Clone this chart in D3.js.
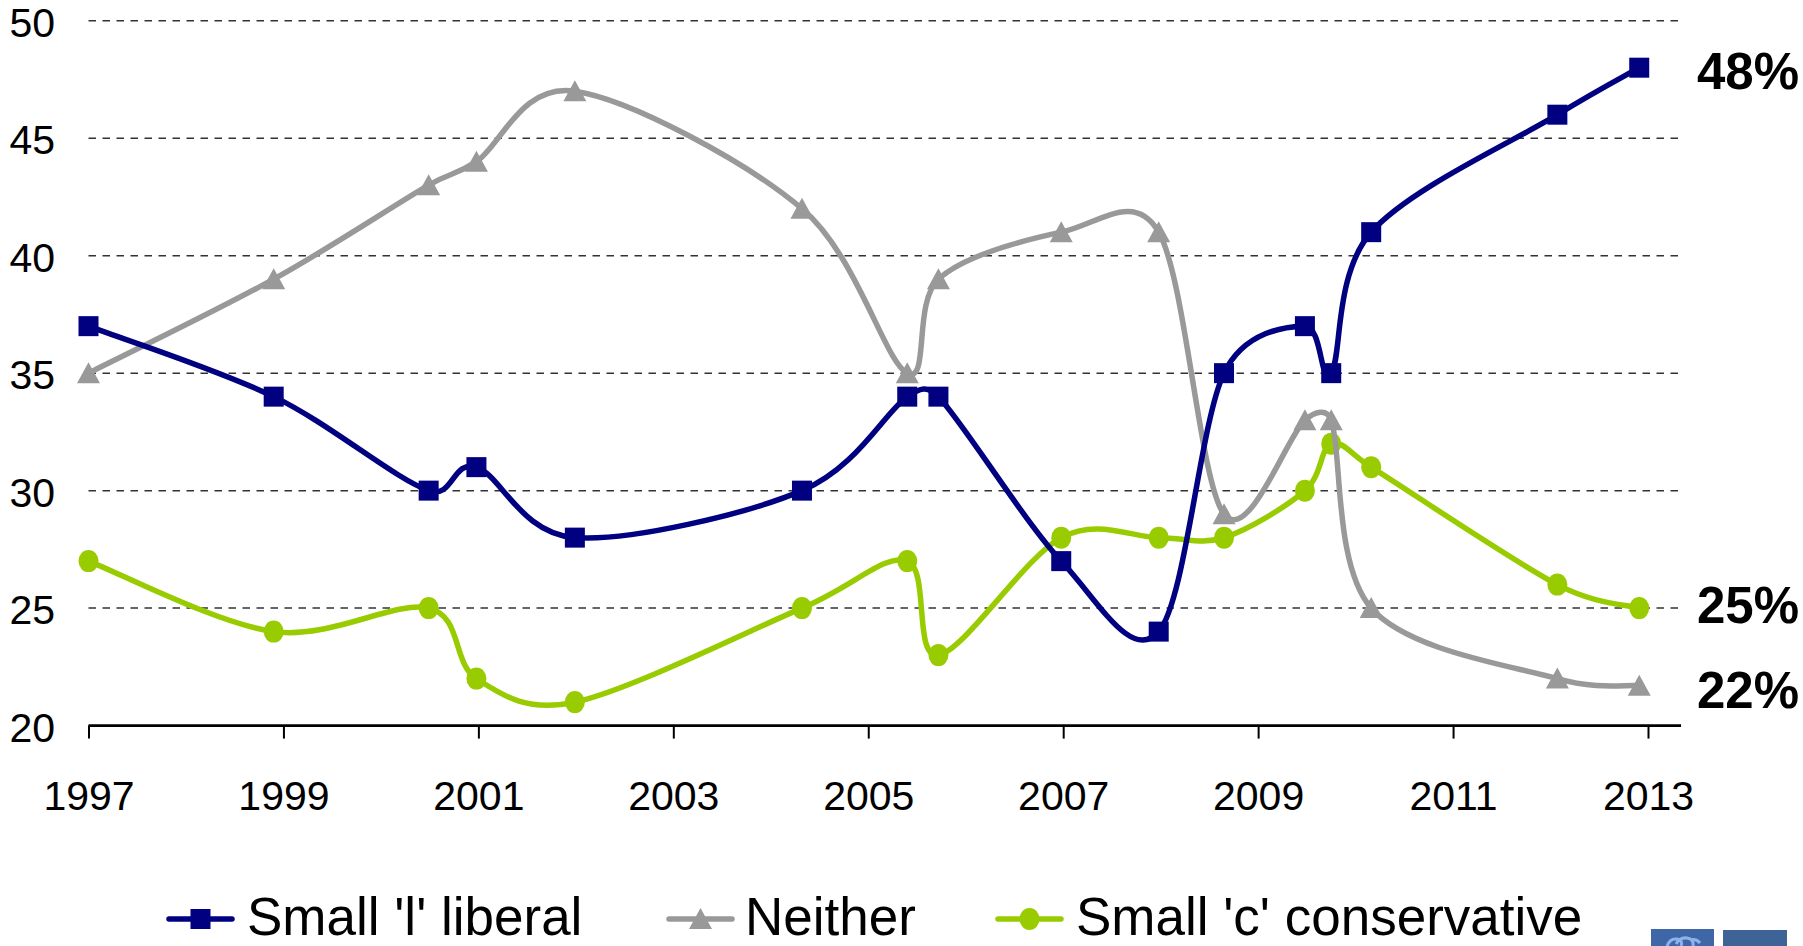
<!DOCTYPE html>
<html>
<head>
<meta charset="utf-8">
<script src="https://cdn.jsdelivr.net/npm/d3@7"></script>
<style>
  html, body { margin: 0; padding: 0; background: #ffffff; }
  svg { display: block; }
  text { font-family: "Liberation Sans", Arial, sans-serif; }
</style>
</head>
<body>
<svg id="chart" width="1803" height="946"></svg>
<script>
// ---- data (survey dates as decimal years) ----
const dates = [1997.00, 1998.90, 2000.49, 2000.98, 2001.99, 2004.32, 2005.40, 2005.72,
               2006.98, 2007.98, 2008.65, 2009.48, 2009.75, 2010.16, 2012.07, 2012.91];
const liberal      = [37, 34, 30, 31, 28, 30, 34, 34, 27, 24, 35, 37, 35, 41, 46, 48];
const neither      = [35, 39, 43, 44, 47, 42, 35, 39, 41, 41, 29, 33, 33, 25, 22, 21.7];
const conservative = [27, 24, 25, 22, 21, 25, 27, 23, 28, 28, 28, 30, 32, 31, 26, 25];
const seriesNames  = ["Small 'l' liberal", "Neither", "Small 'c' conservative"];
const endLabels    = ["48%", "22%", "25%"];
const xTickYears   = [1997, 1999, 2001, 2003, 2005, 2007, 2009, 2011, 2013];
const xTickLabels  = ["1997", "1999", "2001", "2003", "2005", "2007", "2009", "2011", "2013"];
const yTicks       = [20, 25, 30, 35, 40, 45, 50];

// ---- layout ----
const svg = d3.select("#chart");
const x0 = 88.5, x1 = 1648, axisEnd = 1681;
const yTop = 20.7, yBottom = 725.6;

const x = d3.scaleLinear().domain([1997, 2013]).range([x0, x1]);
const y = d3.scaleLinear().domain([20, 50]).range([yBottom, yTop]);

const series = [
  { name: seriesNames[0], values: liberal,      color: "#000080", marker: "square",   label: endLabels[0], dy: 21 },
  { name: seriesNames[1], values: neither,      color: "#999999", marker: "triangle", label: endLabels[1], dy: 22 },
  { name: seriesNames[2], values: conservative, color: "#99CC00", marker: "circle",   label: endLabels[2], dy: 15 }
];

// Excel-like smoothing: uniform Catmull-Rom tangents, clamped to half the segment length
function ExcelCurve(context) { this._context = context; }
ExcelCurve.prototype = {
  areaStart() {}, areaEnd() {},
  lineStart() { this._pts = []; },
  point(px, py) { this._pts.push([+px, +py]); },
  lineEnd() {
    const p = this._pts, n = p.length, c = this._context;
    if (!n) return;
    c.moveTo(p[0][0], p[0][1]);
    for (let i = 0; i < n - 1; i++) {
      const p0 = p[Math.max(i - 1, 0)], p1 = p[i], p2 = p[i + 1], p3 = p[Math.min(i + 2, n - 1)];
      const d12 = Math.hypot(p2[0] - p1[0], p2[1] - p1[1]);
      let t1 = [(p2[0] - p0[0]) / 6, (p2[1] - p0[1]) / 6];
      let t2 = [(p3[0] - p1[0]) / 6, (p3[1] - p1[1]) / 6];
      const lim = d12 * 0.5;
      const l1 = Math.hypot(t1[0], t1[1]), l2 = Math.hypot(t2[0], t2[1]);
      if (l1 > lim) t1 = [t1[0] * lim / l1, t1[1] * lim / l1];
      if (l2 > lim) t2 = [t2[0] * lim / l2, t2[1] * lim / l2];
      c.bezierCurveTo(p1[0] + t1[0], p1[1] + t1[1], p2[0] - t2[0], p2[1] - t2[1], p2[0], p2[1]);
    }
  }
};
const curveExcel = ctx => new ExcelCurve(ctx);

// gridlines
svg.append("g").selectAll("line")
  .data(yTicks.filter(d => d > 20))
  .join("line")
  .attr("x1", x0).attr("x2", axisEnd)
  .attr("y1", d => y(d)).attr("y2", d => y(d))
  .attr("stroke", "#333").attr("stroke-width", 1.5)
  .attr("stroke-dasharray", "7.5,6.5");

// y tick labels
svg.append("g").selectAll("text")
  .data(yTicks)
  .join("text")
  .attr("x", 55).attr("y", d => y(d) + 16)
  .attr("text-anchor", "end")
  .attr("font-size", 41)
  .attr("fill", "#000")
  .text(d => d);

// x axis
const xAxis = d3.axisBottom(x)
  .tickValues(xTickYears)
  .tickFormat((d, i) => xTickLabels[i])
  .tickSize(13)
  .tickPadding(42)
  .tickSizeOuter(0);
const gx = svg.append("g").attr("transform", `translate(0,${yBottom})`).call(xAxis);
gx.select(".domain").remove();
gx.selectAll(".tick line").attr("stroke", "#000").attr("stroke-width", 2);
gx.selectAll(".tick text").attr("font-size", 41).attr("fill", "#000")
  .style("font-family", "'Liberation Sans', Arial, sans-serif");
svg.append("line")
  .attr("x1", x0).attr("x2", axisEnd)
  .attr("y1", yBottom).attr("y2", yBottom)
  .attr("stroke", "#000").attr("stroke-width", 2.6);

// marker drawing helper
function drawMarker(g, type, cx, cy, color) {
  if (type === "square") {
    g.append("rect").attr("x", cx - 10).attr("y", cy - 10)
      .attr("width", 20).attr("height", 20).attr("fill", color);
  } else if (type === "triangle") {
    g.append("path")
      .attr("d", `M${cx},${cy - 11} L${cx + 11.5},${cy + 10} L${cx - 11.5},${cy + 10} Z`)
      .attr("fill", color);
  } else {
    g.append("ellipse").attr("cx", cx).attr("cy", cy)
      .attr("rx", 10).attr("ry", 11).attr("fill", color);
  }
}

// lines + markers (draw order: conservative, neither, liberal on top)
const line = d3.line()
  .x(d => x(d[0])).y(d => y(d[1]))
  .curve(curveExcel);

[series[2], series[1], series[0]].forEach(s => {
  const pts = dates.map((d, i) => [d, s.values[i]]);
  const g = svg.append("g");
  g.append("path").datum(pts)
    .attr("d", line)
    .attr("fill", "none")
    .attr("stroke", s.color)
    .attr("stroke-width", 5.5)
    .attr("stroke-linejoin", "round");
  pts.forEach(p => drawMarker(g, s.marker, x(p[0]), y(p[1]), s.color));
});

// end labels
series.forEach(s => {
  const last = s.values[s.values.length - 1];
  svg.append("text")
    .attr("x", 1697).attr("y", y(last) + s.dy)
    .attr("font-size", 51).attr("font-weight", "bold").attr("fill", "#000")
    .text(s.label);
});

// legend
const legendItems = [
  { s: series[0], lx: 169, tx: 247 },
  { s: series[1], lx: 669, tx: 745 },
  { s: series[2], lx: 998, tx: 1076 }
];
const ly = 919;
legendItems.forEach(it => {
  const g = svg.append("g");
  g.append("line").attr("x1", it.lx).attr("x2", it.lx + 63)
    .attr("y1", ly).attr("y2", ly)
    .attr("stroke", it.s.color).attr("stroke-width", 5.5).attr("stroke-linecap", "round");
  drawMarker(g, it.s.marker, it.lx + 31.5, ly, it.s.color);
  g.append("text").attr("x", it.tx).attr("y", 935)
    .attr("font-size", 53).attr("fill", "#000").text(it.s.name);
});

// logo fragment at bottom-right
svg.append("rect").attr("x", 1651).attr("y", 929).attr("width", 63).attr("height", 17).attr("fill", "#3F67A8");
svg.append("rect").attr("x", 1723).attr("y", 930).attr("width", 64).attr("height", 16).attr("fill", "#3E6397");
svg.append("path")
  .attr("d", "M1667,946 q3,-8 10,-7 q6,1 4,7 M1676,944 q4,-7 11,-6 q7,1 6,8 M1690,940 q6,-2 10,3")
  .attr("fill", "none").attr("stroke", "#8DB4EA").attr("stroke-width", 3);
</script>
</body>
</html>
